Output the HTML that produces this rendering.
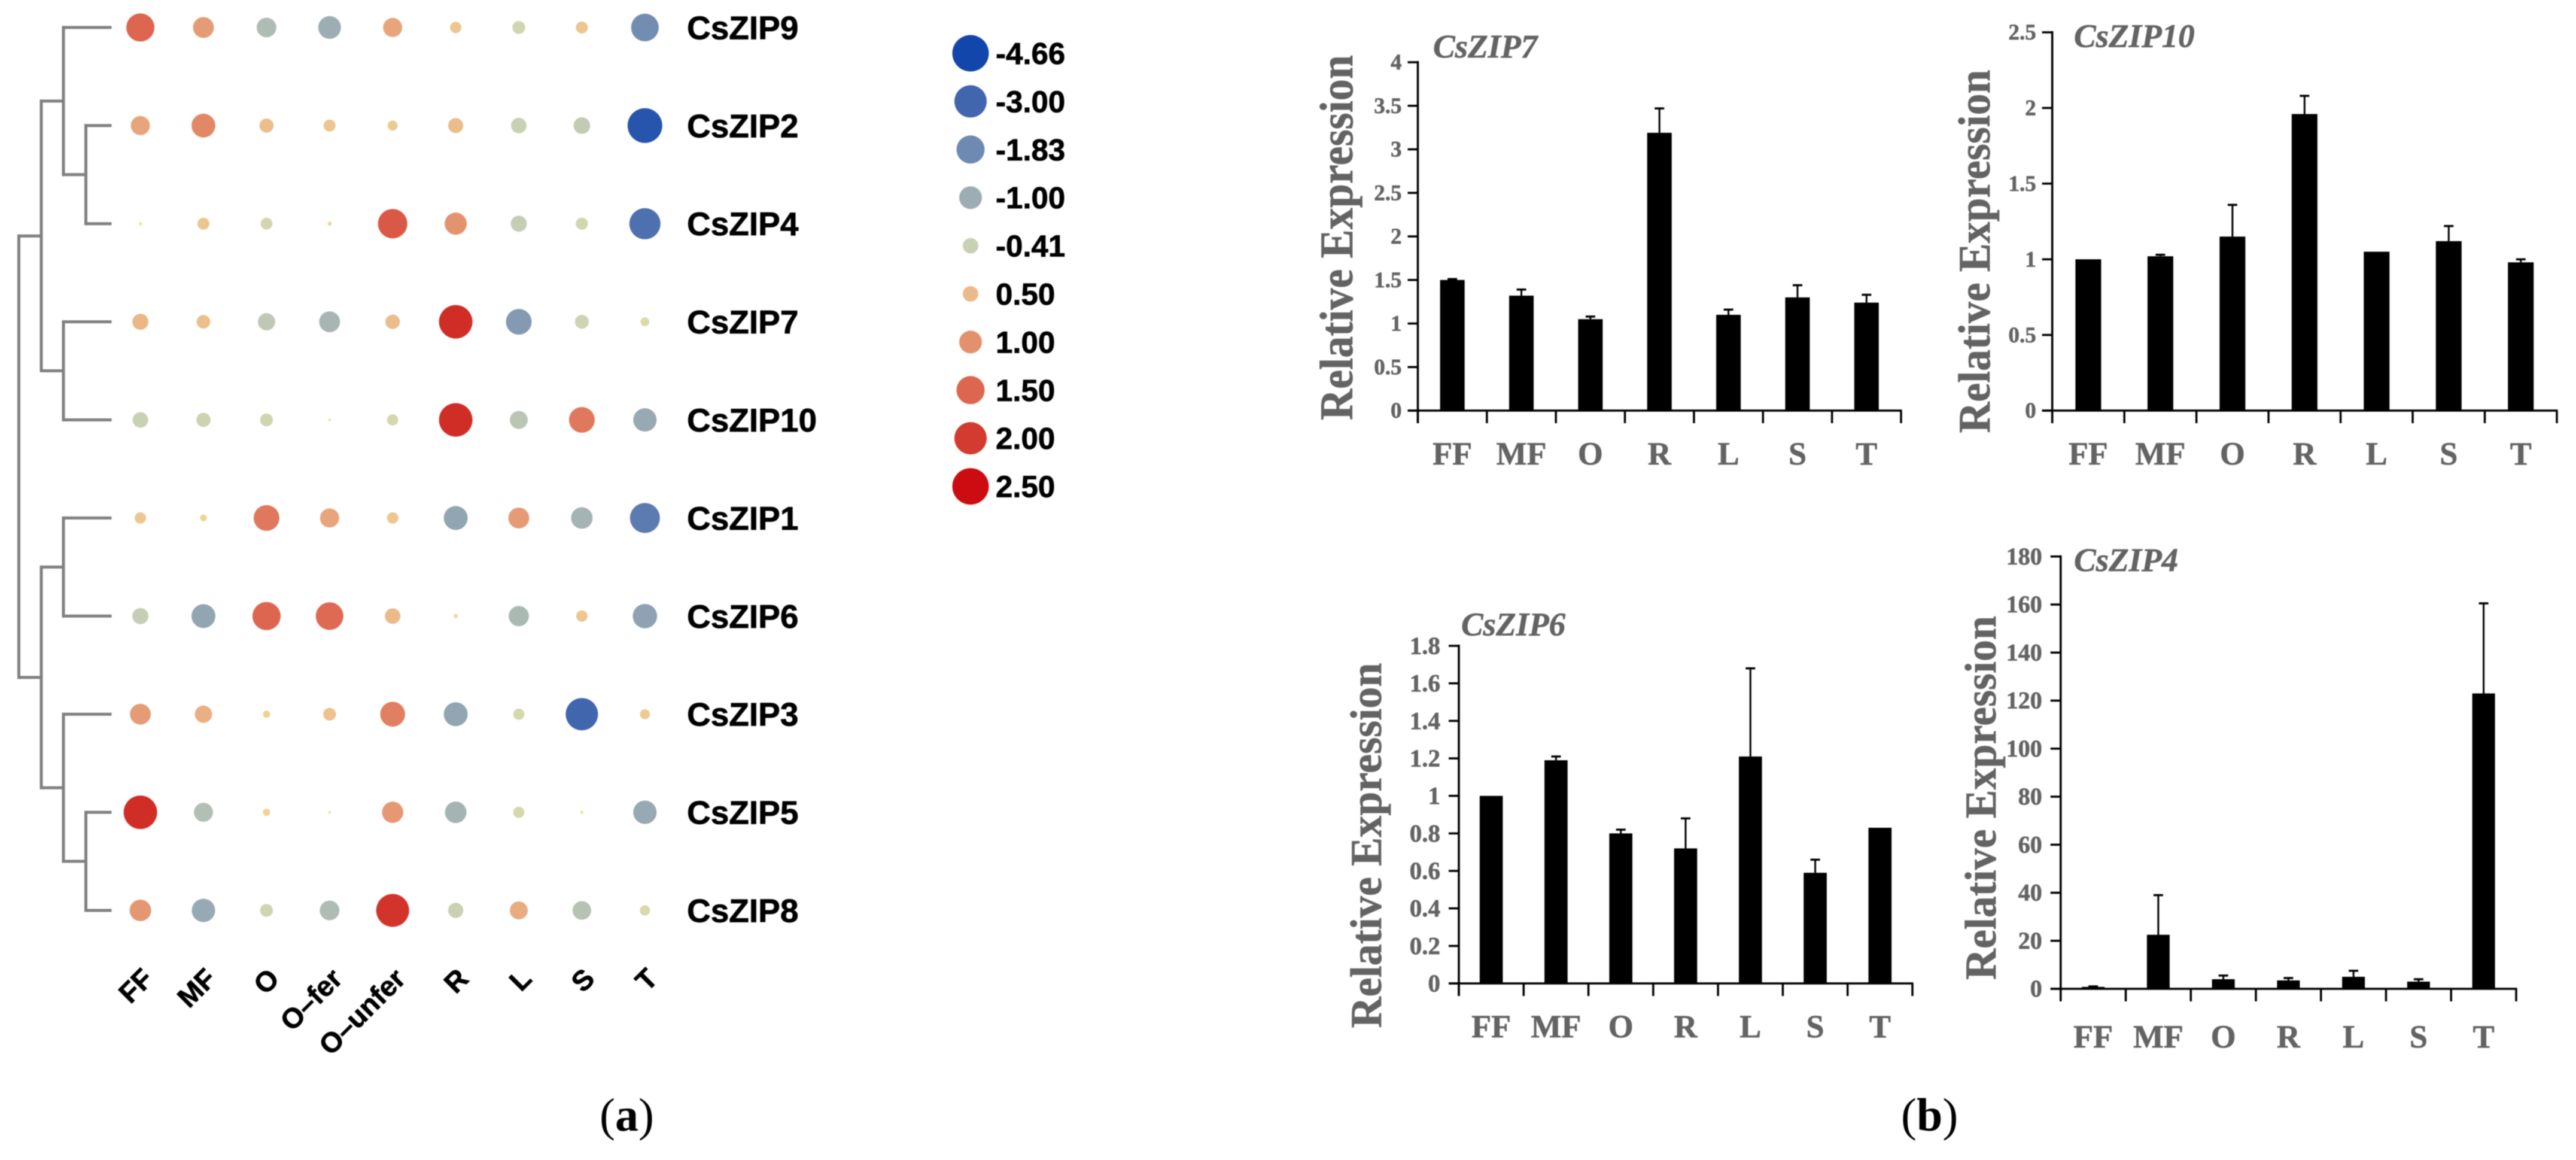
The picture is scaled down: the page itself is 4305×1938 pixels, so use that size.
<!DOCTYPE html>
<html lang="en">
<head>
<meta charset="utf-8">
<title>CsZIP expression bubble plot and qPCR bar charts</title>
<style>
html,body{margin:0;padding:0;background:#fff;}
svg{display:block;filter:blur(0.8px);}
.sans{font-family:"Liberation Sans",Arial,sans-serif;font-weight:bold;fill:#000;stroke:#000;stroke-width:0.8px;}
.serif{font-family:"Liberation Serif","Times New Roman",serif;font-weight:bold;fill:#636363;stroke:#636363;stroke-width:0.7px;}
</style>
</head>
<body>
<svg id="figure" xmlns="http://www.w3.org/2000/svg" width="4305" height="1938" viewBox="0 0 4305 1938">
  <rect width="4305" height="1938" fill="#fff"/>
  <g id="tree"></g>
  <g id="bubbles"></g>
  <g id="legend"></g>
  <g id="bars"></g>
  <text x="1002" y="1889" font-family="'Liberation Serif',serif" font-size="78" fill="#000">(<tspan font-weight="bold">a</tspan>)</text>
  <text x="3177" y="1889" font-family="'Liberation Serif',serif" font-size="78" fill="#000">(<tspan font-weight="bold">b</tspan>)</text>
</svg>
<script>
// ---- Bubble plot data ----
const tissueLabels = ['FF', 'MF', 'O', 'O\u2013fer', 'O\u2013unfer', 'R', 'L', 'S', 'T'];
const geneLabels = ['CsZIP9', 'CsZIP2', 'CsZIP4', 'CsZIP7', 'CsZIP10', 'CsZIP1', 'CsZIP6', 'CsZIP3', 'CsZIP5', 'CsZIP8'];
const csZIP9Values  = [1.50, 0.87, -0.75, -1.00, 0.75, 0.35, -0.33, 0.37, -1.75];
const csZIP2Values  = [0.75, 1.10, 0.45, 0.37, 0.30, 0.48, -0.41, -0.50, -3.95];
const csZIP4Values  = [0.05, 0.37, -0.30, 0.09, 1.65, 0.96, -0.46, -0.31, -2.66];
const csZIP7Values  = [0.54, 0.43, -0.55, -0.85, 0.46, 2.14, -1.46, -0.36, -0.21];
const csZIP10Values = [-0.41, -0.37, -0.33, -0.03, -0.28, 2.14, -0.61, 1.28, -1.10];
const csZIP1Values  = [0.35, 0.18, 1.28, 0.75, 0.35, -1.18, 0.87, -0.90, -2.33];
const csZIP6Values  = [-0.46, -1.18, 1.50, 1.45, 0.50, -0.08, -0.80, 0.35, -1.25];
const csZIP3Values  = [0.87, 0.62, 0.20, 0.40, 1.20, -1.18, -0.28, -3.00, 0.30];
const csZIP5Values  = [2.14, -0.70, 0.20, 0.03, 0.90, -0.90, -0.28, 0.05, -1.10];
const csZIP8Values  = [0.92, -1.10, -0.33, -0.75, 2.07, -0.40, 0.67, -0.66, -0.25];
const bubbleRows = [csZIP9Values, csZIP2Values, csZIP4Values, csZIP7Values, csZIP10Values, csZIP1Values, csZIP6Values, csZIP3Values, csZIP5Values, csZIP8Values];
const legendValues = [-4.66, -3.00, -1.83, -1.00, -0.41, 0.50, 1.00, 1.50, 2.00, 2.50];

// Dendrogram topology: leaves are indexes into geneLabels
const dendrogram = [[[0, [1, 2]], [3, 4]], [[5, 6], [7, [8, 9]]]];

// ---- Bar chart data ----
const barCategories = ['FF', 'MF', 'O', 'R', 'L', 'S', 'T'];
const zip7Ticks  = ['0', '0.5', '1', '1.5', '2', '2.5', '3', '3.5', '4'];
const zip7Means  = [1.50, 1.32, 1.05, 3.19, 1.10, 1.30, 1.24];
const zip7Upper  = [1.51, 1.39, 1.08, 3.47, 1.16, 1.44, 1.33];
const zip10Ticks = ['0', '0.5', '1', '1.5', '2', '2.5'];
const zip10Means = [1.00, 1.02, 1.15, 1.96, 1.05, 1.12, 0.98];
const zip10Upper = [1.00, 1.03, 1.36, 2.08, 1.05, 1.22, 1.00];
const zip6Ticks  = ['0', '0.2', '0.4', '0.6', '0.8', '1', '1.2', '1.4', '1.6', '1.8'];
const zip6Means  = [1.00, 1.19, 0.80, 0.72, 1.21, 0.59, 0.83];
const zip6Upper  = [1.00, 1.21, 0.82, 0.88, 1.68, 0.66, 0.83];
const zip4Ticks  = ['0', '20', '40', '60', '80', '100', '120', '140', '160', '180'];
const zip4Means  = [0.8, 22.5, 4, 3.5, 5, 3, 123];
const zip4Upper  = [1.0, 39, 5.5, 4.5, 7.5, 4, 160.5];

// ---- Helpers ----
const NS = 'http://www.w3.org/2000/svg';
function make(parent, tag, attrs, text) {
  const el = document.createElementNS(NS, tag);
  for (const k in attrs) el.setAttribute(k, attrs[k]);
  if (text !== undefined) el.textContent = text;
  parent.appendChild(el);
  return el;
}
function lerpStops(stopsX, stopsY, v) {
  if (v <= stopsX[0]) return stopsY[0];
  for (let i = 1; i < stopsX.length; i++) {
    if (v <= stopsX[i]) {
      const t = (v - stopsX[i - 1]) / (stopsX[i] - stopsX[i - 1]);
      return stopsY[i - 1] + t * (stopsY[i] - stopsY[i - 1]);
    }
  }
  return stopsY[stopsY.length - 1];
}

// Bubble encodings calibrated from the legend
const scaleStops = [-4.66, -3, -1.83, -1, -0.41, 0, 0.5, 1, 1.5, 2, 2.5];
const diameterStops = [61, 54, 47, 38, 26, 3, 26, 38, 47, 54, 61];
const redStops   = [0x12, 0x42, 0x6f, 0x9c, 0xc9, 0xef, 0xec, 0xe3, 0xdd, 0xd3, 0xcc];
const greenStops = [0x46, 0x66, 0x8a, 0xad, 0xd1, 0xe4, 0xba, 0x90, 0x66, 0x3a, 0x0c];
const blueStops  = [0xab, 0xad, 0xb2, 0xb3, 0xb4, 0x9a, 0x8a, 0x6d, 0x50, 0x30, 0x10];
function bubbleDiameter(v) { return lerpStops(scaleStops, diameterStops, v); }
function bubbleColor(v) {
  const r = Math.round(lerpStops(scaleStops, redStops, v));
  const g = Math.round(lerpStops(scaleStops, greenStops, v));
  const b = Math.round(lerpStops(scaleStops, blueStops, v));
  return 'rgb(' + r + ',' + g + ',' + b + ')';
}
function columnX(i) { return 234.6 + i * 105.4; }
function rowY(i) { return 45.9 + i * 163.9; }

// ---- Bubble plot ----
const bubbleGroup = document.getElementById('bubbles');
bubbleRows.forEach(function (row, r) {
  row.forEach(function (v, c) {
    const dot = make(bubbleGroup, 'circle', { cx: columnX(c), cy: rowY(r), r: bubbleDiameter(v) / 2, fill: bubbleColor(v) });
    
    
  });
  const rowLabel = make(bubbleGroup, 'text', { x: 1148, y: rowY(r) + 19.5, 'font-size': 55, class: 'sans' }, geneLabels[r]);
  
  
});
tissueLabels.forEach(function (label, c) {
  const px = columnX(c) + 24;
  const colLabel = make(bubbleGroup, 'text', { transform: 'translate(' + px + ',1638) rotate(-45)', 'text-anchor': 'end', 'font-size': 47, class: 'sans' }, label);
  
  
});

// ---- Dendrogram ----
const treeGroup = document.getElementById('tree');
const levelX = [31.5, 69, 106, 143.5];
const leafEndX = 184;
function treeLine(x1, y1, x2, y2) {
  const seg = make(treeGroup, 'line', { x1: x1, y1: y1, x2: x2, y2: y2, stroke: '#808080', 'stroke-width': 5, 'stroke-linecap': 'square' });
  
  
}
function drawNode(node, depth) {
  if (typeof node === 'number') return rowY(node);
  const x = levelX[depth];
  const ys = node.map(function (child) {
    const y = drawNode(child, depth + 1);
    treeLine(x, y, typeof child === 'number' ? leafEndX : levelX[depth + 1], y);
    return y;
  });
  treeLine(x, ys[0], x, ys[1]);
  return (ys[0] + ys[1]) / 2;
}
drawNode(dendrogram, 0);

// ---- Legend ----
const legendGroup = document.getElementById('legend');
legendValues.forEach(function (v, i) {
  const y = 89 + i * 80.4;
  const swatch = make(legendGroup, 'circle', { cx: 1622, cy: y, r: bubbleDiameter(v) / 2, fill: bubbleColor(v) });
  
  
  const entry = make(legendGroup, 'text', { x: 1664, y: y + 18, 'font-size': 51, class: 'sans' }, v.toFixed(2));
  
  
});

// ---- Bar charts ----
const barsGroup = document.getElementById('bars');
function drawBarChart(cfg, title, ticks, means, upper) {
  const chart = make(barsGroup, 'g', {});
  
  
  const tickValues = ticks.map(Number);
  const yMax = tickValues[tickValues.length - 1];
  const yScale = function (v) { return cfg.y0 - (v / yMax) * (cfg.y0 - cfg.yTop); };
  const step = (cfg.xEnd - cfg.x0) / barCategories.length;
  const xScale = function (i) { return cfg.x0 + step * (i + 0.5); };

  // Bars and error bars
  means.forEach(function (m, i) {
    const cx = xScale(i);
    const bar = make(chart, 'rect', { x: cx - cfg.barW / 2, y: yScale(m), width: cfg.barW, height: cfg.y0 - yScale(m), fill: '#000' });
    
    
    if (upper[i] > m) {
      const whisker = make(chart, 'line', { x1: cx, x2: cx, y1: yScale(m), y2: yScale(upper[i]), stroke: '#000', 'stroke-width': 3 });
      
      
      const cap = make(chart, 'line', { x1: cx - 8, x2: cx + 8, y1: yScale(upper[i]), y2: yScale(upper[i]), stroke: '#000', 'stroke-width': 3.5 });
      
      
    }
  });

  // Axes
  const yAxis = make(chart, 'line', { x1: cfg.x0, x2: cfg.x0, y1: cfg.yTop - 2, y2: cfg.y0 + 21, stroke: '#000', 'stroke-width': 3.5 });
  
  
  const xAxis = make(chart, 'line', { x1: cfg.x0 - 17, x2: cfg.xEnd + 1.5, y1: cfg.y0, y2: cfg.y0, stroke: '#000', 'stroke-width': 3.5 });
  
  

  ticks.forEach(function (t, i) {
    const y = yScale(tickValues[i]);
    const mark = make(chart, 'line', { x1: cfg.x0 - 17, x2: cfg.x0, y1: y, y2: y, stroke: '#000', 'stroke-width': 3.5 });
    
    
    const lab = make(chart, 'text', { x: cfg.x0 - cfg.labelGap, y: y + cfg.tickFont * 0.33, 'text-anchor': 'end', 'font-size': cfg.tickFont, class: 'serif' }, t);
    
    
  });
  for (let i = 0; i <= barCategories.length; i++) {
    const x = cfg.x0 + step * i;
    const mark = make(chart, 'line', { x1: x, x2: x, y1: cfg.y0, y2: cfg.y0 + 21, stroke: '#000', 'stroke-width': 3.5 });
    
    
  }
  barCategories.forEach(function (c, i) {
    const lab = make(chart, 'text', { x: xScale(i), y: cfg.catBase, 'text-anchor': 'middle', 'font-size': 54, class: 'serif' }, c);
    
    
  });

  const yTitle = make(chart, 'text', { transform: 'translate(' + cfg.titleX + ',' + cfg.titleY + ') rotate(-90)', 'text-anchor': 'middle', 'font-size': cfg.titleFont, textLength: cfg.titleLen, lengthAdjust: 'spacingAndGlyphs', class: 'serif' }, 'Relative Expression');
  
  

  const geneTitle = make(chart, 'text', { x: cfg.headX, y: cfg.headY, 'font-size': 55, 'font-style': 'italic', class: 'serif' }, title);
  
  
}

drawBarChart({ x0: 2369.5, xEnd: 3177, y0: 686, yTop: 104, barW: 41, labelGap: 27, tickFont: 37, catBase: 776, titleX: 2260, titleY: 397, titleLen: 610, titleFont: 78, headX: 2395, headY: 96 }, 'CsZIP7', zip7Ticks, zip7Means, zip7Upper);
drawBarChart({ x0: 3429.7, xEnd: 4273, y0: 686, yTop: 54, barW: 43, labelGap: 27, tickFont: 37, catBase: 776, titleX: 3325, titleY: 420, titleLen: 607, titleFont: 75, headX: 3466, headY: 78.6 }, 'CsZIP10', zip10Ticks, zip10Means, zip10Upper);
drawBarChart({ x0: 2438, xEnd: 3196, y0: 1643, yTop: 1079, barW: 38.6, labelGap: 31, tickFont: 41, catBase: 1733, titleX: 2308, titleY: 1412.5, titleLen: 610, titleFont: 74, headX: 2442, headY: 1061.5 }, 'CsZIP6', zip6Ticks, zip6Means, zip6Upper);
drawBarChart({ x0: 3443.8, xEnd: 4205, y0: 1652, yTop: 929.8, barW: 38, labelGap: 31, tickFont: 40, catBase: 1750, titleX: 3335, titleY: 1333, titleLen: 608, titleFont: 74, headX: 3466, headY: 954 }, 'CsZIP4', zip4Ticks, zip4Means, zip4Upper);
</script>
</body>
</html>
